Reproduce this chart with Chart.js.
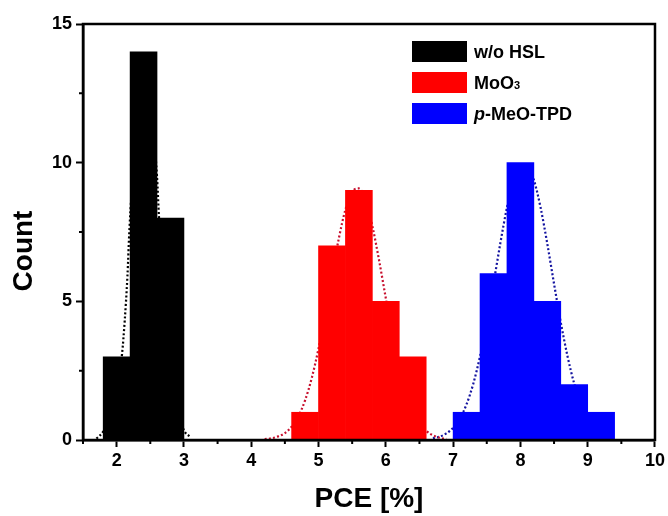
<!DOCTYPE html>
<html>
<head>
<meta charset="utf-8">
<script src="https://cdn.jsdelivr.net/npm/chart.js@4/dist/chart.umd.min.js"></script>
<style>
  html, body { margin: 0; padding: 0; background: #fff; }
  canvas { display: block; }
</style>
</head>
<body>
<canvas id="hist" width="668" height="516"></canvas>
<script>
// --- bin centres (0.4 wide bins) and counts ---
const BLACK_CENTERS = [2.0, 2.4, 2.8];
const BLACK_COUNTS  = [3, 14, 8];
const RED_CENTERS   = [4.8, 5.2, 5.6, 6.0, 6.4];
const RED_COUNTS    = [1, 7, 9, 5, 3];
const BLUE_CENTERS  = [7.2, 7.6, 8.0, 8.4, 8.8, 9.2];
const BLUE_COUNTS   = [1, 6, 10, 5, 2, 1];

// --- dotted fit curves ---
const BLACK_FIT_X = [1.7, 1.8, 1.9, 2.0, 2.08, 2.12, 2.16, 2.19, 2.25, 2.32, 2.4, 2.48, 2.55, 2.6, 2.63, 2.7, 2.8, 2.9, 3.0, 3.1];
const BLACK_FIT_Y = [0.05, 0.3, 0.8, 1.8, 3.1, 4.3, 5.9, 7.6, 10, 12.5, 13.6, 13, 11, 9.5, 8, 5.5, 2.8, 1.1, 0.35, 0.1];
const RED_FIT_X = [4.2, 4.3, 4.4, 4.5, 4.6, 4.7, 4.8, 4.9, 5.0, 5.1, 5.2, 5.3, 5.4, 5.5, 5.6, 5.7, 5.8, 5.9, 6.0, 6.1, 6.2, 6.3, 6.4, 6.5, 6.6, 6.7, 6.8, 6.9];
const RED_FIT_Y = [0.03, 0.06, 0.13, 0.25, 0.48, 0.85, 1.43, 2.24, 3.3, 4.57, 5.93, 7.25, 8.31, 8.96, 9.07, 8.63, 7.71, 6.48, 5.11, 3.78, 2.63, 1.72, 1.06, 0.61, 0.33, 0.17, 0.08, 0.04];
const BLUE_FIT_X = [6.7, 6.8, 6.9, 7.0, 7.1, 7.2, 7.3, 7.4, 7.5, 7.6, 7.7, 7.8, 7.9, 8.0, 8.1, 8.2, 8.3, 8.4, 8.5, 8.6, 8.7, 8.8, 8.9, 9.0, 9.1, 9.2, 9.3, 9.4];
const BLUE_FIT_Y = [0.06, 0.12, 0.24, 0.44, 0.77, 1.29, 2.03, 3.02, 4.24, 5.63, 7.07, 8.38, 9.38, 9.93, 9.93, 9.38, 8.38, 7.07, 5.63, 4.24, 3.02, 2.03, 1.29, 0.77, 0.44, 0.24, 0.12, 0.06];

// --- axes ---
const X_TICKS = [2, 3, 4, 5, 6, 7, 8, 9, 10];
const X_MINOR = [1.5, 2.5, 3.5, 4.5, 5.5, 6.5, 7.5, 8.5, 9.5];
const Y_TICKS = [0, 5, 10, 15];
const Y_MINOR = [2.5, 7.5, 12.5];
const Y_TITLE = 'Count';

// legend: label pieces (text, style)
const LEGEND_ITEMS = [
  { color: '#000000', parts: [['w/o HSL', 'n']] },
  { color: '#ff0000', parts: [['MoO', 'n'], ['3', 'sub']] },
  { color: '#0000ff', parts: [['p', 'i'], ['-MeO-TPD', 'n']] }
];

const FONT = "'Liberation Sans', Arial, sans-serif";

const pts = (xs, ys) => xs.map((x, i) => ({ x: x, y: ys[i] }));

function barSet(label, xs, ys, color) {
  return {
    type: 'bar', label: label, data: pts(xs, ys),
    backgroundColor: color, borderWidth: 0,
    barPercentage: 1, categoryPercentage: 1, grouped: false, order: 1
  };
}
function fitSet(label, xs, ys, color) {
  return {
    type: 'line', label: label, data: pts(xs, ys),
    borderColor: color, borderWidth: 2.2, borderDash: [2, 2.2],
    pointRadius: 0, fill: false, cubicInterpolationMode: 'monotone', order: 2
  };
}

const framePlugin = {
  id: 'frame',
  afterDatasetsDraw(chart) {
    const { ctx, chartArea: a, scales } = chart;
    ctx.save();
    ctx.strokeStyle = '#000';
    // minor ticks
    ctx.lineWidth = 2;
    ctx.beginPath();
    X_MINOR.forEach(v => {
      const px = scales.x.getPixelForValue(v);
      ctx.moveTo(px, a.bottom); ctx.lineTo(px, a.bottom + 4);
    });
    Y_MINOR.forEach(v => {
      const py = scales.y.getPixelForValue(v);
      ctx.moveTo(a.left, py); ctx.lineTo(a.left - 4, py);
    });
    ctx.stroke();
    // box round the plot
    ctx.lineWidth = 2.5;
    ctx.strokeRect(a.left, a.top, a.right - a.left, a.bottom - a.top);
    ctx.restore();
  },
  afterDraw(chart) {
    const ctx = chart.ctx;
    ctx.save();
    // y title, a little below the axis centre as in the original
    ctx.translate(24, 251);
    ctx.rotate(-Math.PI / 2);
    ctx.font = 'bold 28px ' + FONT;
    ctx.textAlign = 'center';
    ctx.textBaseline = 'middle';
    ctx.fillStyle = '#000';
    ctx.fillText(Y_TITLE, 0, 0);
    ctx.restore();

    ctx.save();
    ctx.textBaseline = 'alphabetic';
    LEGEND_ITEMS.forEach((it, i) => {
      const top = 41 + i * 31;
      ctx.fillStyle = it.color;
      ctx.fillRect(412, top, 55, 21);
      let x = 474;
      const base = top + 17;
      ctx.fillStyle = '#000';
      it.parts.forEach(([t, s]) => {
        if (s === 'sub') ctx.font = 'bold 11px ' + FONT;
        else if (s === 'i') ctx.font = 'italic bold 18px ' + FONT;
        else ctx.font = 'bold 18px ' + FONT;
        ctx.fillText(t, x, base);
        x += ctx.measureText(t).width;
      });
    });
    ctx.restore();
  }
};

new Chart(document.getElementById('hist'), {
  type: 'bar',
  data: {
    datasets: [
      barSet('w/o HSL', BLACK_CENTERS, BLACK_COUNTS, '#000000'),
      barSet('MoO3', RED_CENTERS, RED_COUNTS, '#ff0000'),
      barSet('p-MeO-TPD', BLUE_CENTERS, BLUE_COUNTS, '#0000ff'),
      fitSet('fit w/o HSL', BLACK_FIT_X, BLACK_FIT_Y, '#000000'),
      fitSet('fit MoO3', RED_FIT_X, RED_FIT_Y, '#c8102e'),
      fitSet('fit p-MeO-TPD', BLUE_FIT_X, BLUE_FIT_Y, '#1414a0')
    ]
  },
  options: {
    responsive: false,
    animation: false,
    devicePixelRatio: 1,
    layout: { padding: { top: 24, right: 11, left: 0, bottom: 0 } },
    plugins: { legend: { display: false }, tooltip: { enabled: false } },
    scales: {
      x: {
        type: 'linear', min: 1.5, max: 10, offset: false,
        afterBuildTicks: s => { s.ticks = X_TICKS.map(v => ({ value: v })); },
        afterFit: s => { s.height = 76; },
        grid: { offset: false, drawOnChartArea: false, drawTicks: true, tickLength: 7, tickWidth: 2, tickColor: '#000' },
        border: { display: true, color: '#000', width: 2.5 },
        ticks: { color: '#000', padding: 3, font: { family: FONT, size: 18, weight: 'bold' } },
        title: { display: true, text: 'PCE [%]', color: '#000', padding: { top: 0, bottom: 3 },
                 font: { family: FONT, size: 28, weight: 'bold', lineHeight: 1 } }
      },
      y: {
        min: 0, max: 15,
        afterBuildTicks: s => { s.ticks = Y_TICKS.map(v => ({ value: v })); },
        afterFit: s => { s.width = 83; },
        grid: { drawOnChartArea: false, drawTicks: true, tickLength: 7, tickWidth: 2, tickColor: '#000' },
        border: { display: true, color: '#000', width: 2.5 },
        ticks: { color: '#000', padding: 4, font: { family: FONT, size: 18, weight: 'bold' } },
        title: { display: false }
      }
    }
  },
  plugins: [framePlugin]
});
</script>
</body>
</html>
